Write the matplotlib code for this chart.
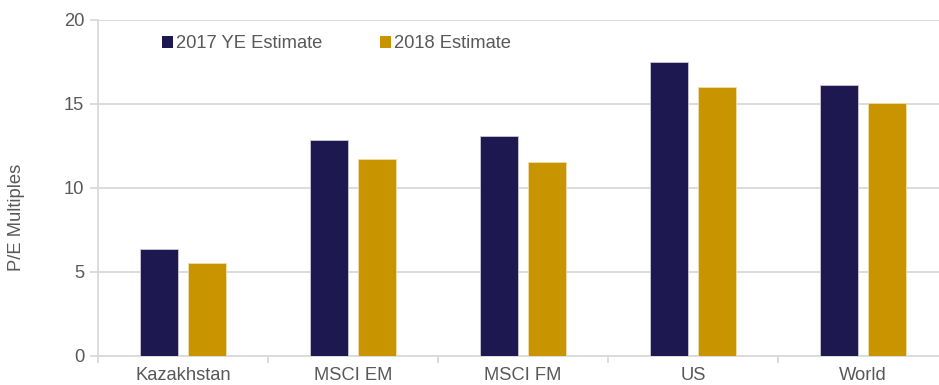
import matplotlib
matplotlib.use("Agg")
import matplotlib.pyplot as plt
import numpy as np

categories = ["Kazakhstan", "MSCI EM", "MSCI FM", "US", "World"]
series_names = ["2017 YE Estimate", "2018 Estimate"]
pe_2017 = [6.35, 12.87, 13.1, 17.52, 16.15]
pe_2018 = [5.55, 11.73, 11.53, 16.03, 15.03]
y_ticks = [0, 5, 10, 15, 20]

dark = "#1E1850"
gold = "#C89500"
grid_c = "#D9D9D9"
text_c = "#595959"

plt.rcParams['font.family'] = ['Liberation Sans', 'DejaVu Sans']
FS = 13.2

W, H = 939, 385
fig = plt.figure(figsize=(W / 100, H / 100), dpi=100)
left, right, top, bottom = 98, 939, 20, 356
ax = fig.add_axes([left / W, 1 - bottom / H, (right - left) / W, (bottom - top) / H])

x = np.arange(len(categories))
bw = 38 / 170
off = 24 / 170
ax.bar(x - off, pe_2017, bw, color=dark, edgecolor="#C9C7D6", linewidth=0.6, label=series_names[0], zorder=3)
ax.bar(x + off, pe_2018, bw, color=gold, edgecolor="#F0DDA8", linewidth=0.6, label=series_names[1], zorder=3)

ax.set_yticks(y_ticks)
ax.yaxis.grid(True, color=grid_c, linewidth=1.3, zorder=0)
ax.set_axisbelow(True)

ax.set_xticks(x)
ax.set_xticklabels(categories)
ax.set_xticks(np.arange(-0.5, 5, 1), minor=True)
ax.set_ylim(0, 20)
ax.set_xlim(-0.5, 4.5 - 9 / 170)
ax.tick_params(axis='x', which='major', length=0, pad=8, labelsize=FS, labelcolor=text_c)
ax.tick_params(axis='x', which='minor', length=5, width=1.3, color=grid_c)
ax.tick_params(axis='y', length=6, width=1.3, color=grid_c, pad=4, labelsize=FS, labelcolor=text_c)

for s in ["top", "right"]:
    ax.spines[s].set_visible(False)
for s in ["left", "bottom"]:
    ax.spines[s].set_color(grid_c)
    ax.spines[s].set_linewidth(1.3)

fig.text(17 / W, 1 - 217 / H, "P/E Multiples", rotation=90, ha="center", va="center",
         fontsize=FS, color=text_c)

leg = ax.legend(loc="center left", bbox_to_anchor=(162 / W, 1 - 44 / H), bbox_transform=fig.transFigure,
                ncol=2, frameon=False, fontsize=FS, handlelength=0.62, handleheight=0.62,
                handletextpad=0.16, columnspacing=3.1, borderpad=0, borderaxespad=0, labelcolor=text_c)
for h in leg.legend_handles:
    h.set_edgecolor("none")

fig.savefig("out.png", dpi=100)
